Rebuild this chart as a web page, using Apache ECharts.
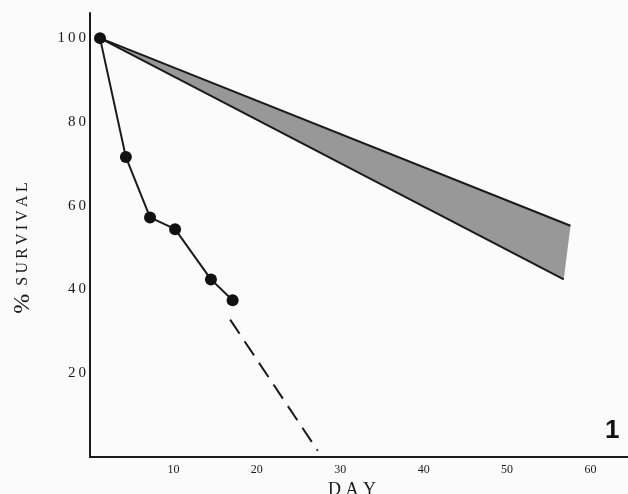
<!DOCTYPE html>
<html lang="en">
  <head>
    <meta charset="UTF-8" />
    <title>% Survival by Day</title>
    <script src="https://cdn.jsdelivr.net/npm/echarts@6/dist/echarts.min.js"></script>
    <style>
      html, body { margin: 0; padding: 0; background: #fbfbfb; }
    </style>
  </head>
  <body>
    <div id="main" style="width: 628px; height: 494px"></div>
    <script type="text/javascript">
      // observed points (solid line with dots)
      const days = [1.2, 4.3, 7.2, 10.2, 14.5, 17.1];
      const survival = [100, 71.6, 57.2, 54.4, 42.4, 37.4];

      // dashed extrapolation
      const dashDays = [16.8, 27.3];
      const dashSurvival = [32.8, 1.5];

      // shaded band edges
      const upperDays = [1.2, 57.6];
      const upperSurvival = [100, 55.2];
      const lowerDays = [1.2, 56.8];
      const lowerSurvival = [100, 42.4];

      const xTicks = [10, 20, 30, 40, 50, 60];
      const yTicks = [20, 40, 60, 80, 100];

      const zip = (xs, ys) => xs.map((x, i) => [x, ys[i]]);
      const bandPoly = zip(upperDays, upperSurvival).concat(
        zip(lowerDays, lowerSurvival).reverse()
      );

      var myChart = echarts.init(document.getElementById("main"));

      var serif = "Liberation Serif";
      var ink = "#1a1a1a";
      var thin = "\u2009";

      var option = {
        backgroundColor: "#fbfbfb",
        animation: false,
        grid: { left: 90, top: 13, right: 0, bottom: 37, outerBoundsMode: "none" },
        xAxis: {
          type: "value",
          min: 0,
          max: 64.5,
          interval: 10,
          name: "D A Y",
          nameLocation: "middle",
          nameGap: 24,
          nameTextStyle: {
            fontFamily: serif,
            fontSize: 18,
            color: ink,
            padding: [0, 14, 0, 0]
          },
          axisLine: { lineStyle: { color: ink, width: 2 } },
          axisTick: { show: false },
          splitLine: { show: false },
          axisLabel: {
            margin: 7,
            fontFamily: serif,
            fontSize: 12,
            color: ink,
            formatter: (v) => (xTicks.includes(v) ? String(v) : "")
          }
        },
        yAxis: {
          type: "value",
          min: 0,
          max: 106,
          interval: 20,
          name: "{p|%}  S" + thin + "U" + thin + "R" + thin + "V" + thin + "I" + thin + "V" + thin + "A" + thin + "L",
          nameLocation: "middle",
          nameGap: 55,
          nameRotate: 90,
          nameTextStyle: {
            fontFamily: serif,
            fontSize: 16,
            color: ink,
            padding: [0, 26, 0, 0],
            rich: { p: { fontFamily: serif, fontSize: 24, color: ink } }
          },
          axisLine: { lineStyle: { color: ink, width: 2 } },
          axisTick: { show: false },
          splitLine: { show: false },
          axisLabel: {
            margin: 4,
            fontFamily: serif,
            fontSize: 15,
            color: ink,
            formatter: (v) => (yTicks.includes(v) ? String(v).split("").join(thin) : "")
          }
        },
        graphic: [
          {
            type: "text",
            left: 605,
            top: 418,
            style: {
              text: "1",
              font: "bold 26px Liberation Sans",
              fill: "#111"
            }
          }
        ],
        series: [
          {
            type: "custom",
            silent: true,
            data: [bandPoly[0]],
            renderItem: function (params, api) {
              var pts = bandPoly.map((p) => api.coord(p));
              return {
                type: "polygon",
                shape: { points: pts },
                style: { fill: "#989898" }
              };
            },
            z: 1
          },
          {
            type: "line",
            data: zip(upperDays, upperSurvival),
            symbol: "none",
            lineStyle: { color: ink, width: 2 },
            z: 2
          },
          {
            type: "line",
            data: zip(lowerDays, lowerSurvival),
            symbol: "none",
            lineStyle: { color: ink, width: 2 },
            z: 2
          },
          {
            type: "line",
            data: zip(dashDays, dashSurvival),
            symbol: "none",
            lineStyle: { color: ink, width: 2, type: [17, 9] },
            z: 2
          },
          {
            type: "line",
            data: zip(days, survival),
            symbol: "circle",
            symbolSize: 12,
            itemStyle: { color: "#111" },
            lineStyle: { color: ink, width: 2 },
            z: 3
          }
        ]
      };

      myChart.setOption(option);
    </script>
  </body>
</html>
